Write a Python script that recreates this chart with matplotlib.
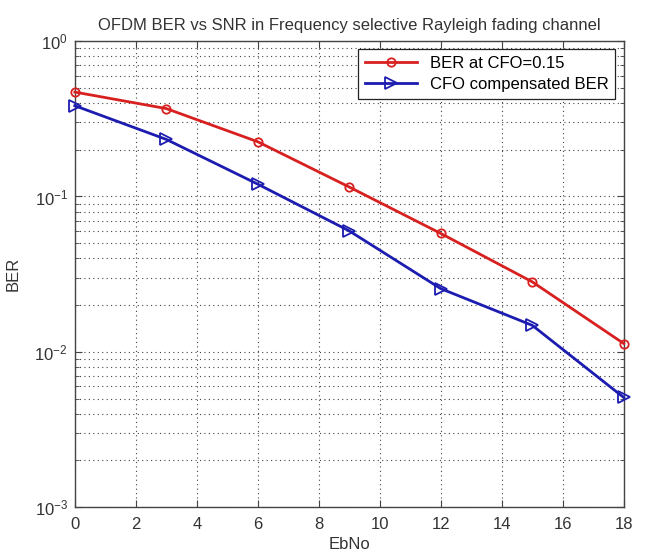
import matplotlib
matplotlib.use("Agg")
import matplotlib.pyplot as plt
from matplotlib.ticker import LogLocator, FixedLocator

plt.rcParams['font.family'] = ['Liberation Sans', 'DejaVu Sans']
plt.rcParams['mathtext.fontset'] = 'custom'
plt.rcParams['mathtext.rm'] = 'Liberation Sans'
plt.rcParams['mathtext.it'] = 'Liberation Sans'

ebno = [0, 3, 6, 9, 12, 15, 18]
ber_cfo = [0.47, 0.368, 0.225, 0.115, 0.0578, 0.0282, 0.0113]
ber_comp = [0.384, 0.233, 0.12, 0.060, 0.0255, 0.0148, 0.00508]
xticks = [0, 2, 4, 6, 8, 10, 12, 14, 16, 18]

fig = plt.figure(figsize=(6.45, 5.56), dpi=100)
ax = fig.add_axes([0.116, 0.088, 0.851, 0.838])

ax.semilogy(ebno, ber_cfo, color='#d82020', lw=2, marker='o', ms=6,
            mfc='none', mew=1.3, label='BER at CFO=0.15', clip_on=False, zorder=3)
ax.semilogy(ebno, ber_comp, color='#1c1cb0', lw=2, marker='>', ms=8,
            mfc='none', mew=1.3, label='CFO compensated BER', clip_on=False, zorder=3)

ax.set_xlim(0, 18)
ax.set_ylim(1e-3, 1)
ax.xaxis.set_major_locator(FixedLocator(xticks))
ax.yaxis.set_major_locator(LogLocator(base=10, numticks=10))
ax.yaxis.set_minor_locator(LogLocator(base=10, subs=range(2, 10), numticks=10))

gkw = dict(color='#444444', lw=0.8, dashes=(1, 3))
ax.grid(True, which='major', axis='both', **gkw)
ax.grid(True, which='minor', axis='y', **gkw)

ax.tick_params(which='both', direction='in', top=True, right=True,
               labelsize=12, colors='#444444', labelcolor='#333333')
ax.tick_params(which='major', length=5)
ax.tick_params(which='minor', length=3)
ax.tick_params(axis='x', pad=7)
ax.tick_params(axis='y', pad=5)
for s in ax.spines.values():
    s.set_color('#444444')
    s.set_linewidth(1.0)

ax.set_title('OFDM BER vs SNR in Frequency selective Rayleigh fading channel',
             fontsize=12, color='#333333', pad=8)
ax.set_xlabel('EbNo', fontsize=12, color='#333333', labelpad=4)
ax.set_ylabel('BER', fontsize=12, color='#333333', labelpad=10)

leg = ax.legend(loc='upper right', fontsize=12, fancybox=False,
                edgecolor='#222222', framealpha=1, handlelength=3.1,
                borderaxespad=0.5, labelspacing=0.35, borderpad=0.4)
leg.get_frame().set_linewidth(0.9)

fig.savefig('out.png', dpi=100)
